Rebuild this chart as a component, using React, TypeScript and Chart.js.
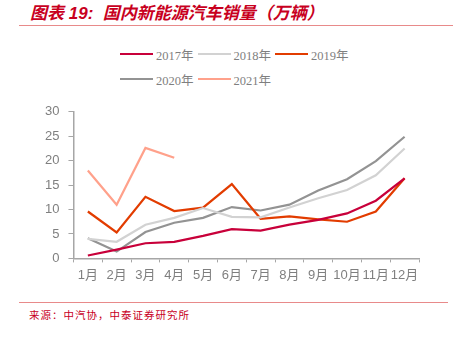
import React, { useEffect, useRef } from "react";
import { Chart, registerables } from "chart.js";

Chart.register(...registerables);

const months = ["1月", "2月", "3月", "4月", "5月", "6月", "7月", "8月", "9月", "10月", "11月", "12月"];
const seriesNames = ["2017年", "2018年", "2019年", "2020年", "2021年"];
const sales2017 = [0.6, 1.8, 3.1, 3.4, 4.6, 6.0, 5.7, 6.9, 7.9, 9.2, 11.8, 16.4];
const sales2018 = [4.0, 3.4, 6.9, 8.3, 10.3, 8.5, 8.4, 10.4, 12.3, 14.0, 17.0, 22.5];
const sales2019 = [9.6, 5.3, 12.6, 9.7, 10.4, 15.2, 8.1, 8.6, 8.0, 7.5, 9.6, 16.4];
const sales2020 = [4.1, 1.4, 5.4, 7.3, 8.3, 10.5, 9.8, 11.0, 13.9, 16.2, 19.9, 24.9];
const sales2021 = [18.0, 11.0, 22.6, 20.6];
const seriesColors = ["#C8003A", "#D2D2D2", "#E23C00", "#939393", "#FFA18B"];
const yTicks = [0, 5, 10, 15, 20, 25, 30];

const seriesData = [sales2017, sales2018, sales2019, sales2020, sales2021];

export default function App() {
  const ref = useRef<HTMLCanvasElement | null>(null);

  useEffect(() => {
    if (!ref.current) return;
    const chart = new Chart(ref.current, {
      type: "line",
      data: {
        labels: months,
        datasets: seriesNames.map((name, i) => ({
          label: name,
          data: seriesData[i],
          borderColor: seriesColors[i],
          backgroundColor: seriesColors[i],
          borderWidth: 2.2,
          pointRadius: 0,
          tension: 0,
          fill: false,
        })),
      },
      options: {
        responsive: false,
        animation: false,
        layout: { padding: { left: 36, right: 37, top: 11.5, bottom: 7 } },
        plugins: {
          legend: { display: false },
          tooltip: { enabled: false },
          title: { display: false },
        },
        scales: {
          x: {
            offset: true,
            grid: {
              display: true,
              drawOnChartArea: false,
              offset: true,
              tickLength: 4,
              color: "#A6A6A6",
            },
            border: { display: true, color: "#A6A6A6", width: 1.5 },
            ticks: {
              color: "#7F7F7F",
              padding: 5,
              maxRotation: 0,
              autoSkip: false,
              font: { family: "'Liberation Sans', 'Noto Sans CJK SC', sans-serif", size: 13 },
            },
          },
          y: {
            min: 0,
            max: 30,
            afterBuildTicks: (axis: any) => {
              axis.ticks = yTicks.map((v) => ({ value: v }));
            },
            grid: {
              display: true,
              drawOnChartArea: false,
              tickLength: 5,
              color: "#A6A6A6",
            },
            border: { display: true, color: "#A6A6A6", width: 1.5 },
            ticks: {
              color: "#7F7F7F",
              padding: 9,
              font: { family: "'Liberation Sans', sans-serif", size: 13 },
            },
          },
        },
      },
    });
    return () => chart.destroy();
  }, []);

  return (
    <div style={{ position: "fixed", left: 0, top: 0, width: 456, height: 345, background: "#fff", overflow: "hidden" }}>
      <div
        style={{
          position: "absolute",
          left: 30,
          top: 4,
          fontSize: 17,
          fontWeight: "bold",
          fontStyle: "italic",
          color: "#C8001E",
          fontFamily: "'Liberation Sans', 'Noto Sans CJK SC', sans-serif",
          whiteSpace: "nowrap",
          lineHeight: "20px",
        }}
      >
        图表 19:&nbsp;&nbsp;国内新能源汽车销量（万辆）
      </div>
      <div style={{ position: "absolute", left: 19, top: 25, width: 434, height: 1, background: "#E88A8A" }} />
      <div
        style={{
          position: "absolute",
          left: 120,
          top: 45,
          width: 240,
          display: "flex",
          flexWrap: "wrap",
          rowGap: 7,
        }}
      >
        {seriesNames.map((name, i) => (
          <div key={name} style={{ width: 77.5, height: 18, display: "flex", alignItems: "center" }}>
            <span style={{ display: "inline-block", width: 33, height: 2.5, background: seriesColors[i], marginRight: 3 }} />
            <span
              style={{
                fontFamily: "'Liberation Serif', 'Noto Sans CJK SC', serif",
                fontSize: 12.5,
                color: "#7F7F7F",
                whiteSpace: "nowrap",
              }}
            >
              {name}
            </span>
          </div>
        ))}
      </div>
      <canvas ref={ref} width={456} height={200} style={{ position: "absolute", left: 0, top: 95, width: 456, height: 200 }} />
      <div style={{ position: "absolute", left: 19, top: 302, width: 429, height: 1, background: "#E88A8A" }} />
      <div
        style={{
          position: "absolute",
          left: 29,
          top: 308,
          fontSize: 10.5,
          letterSpacing: 1,
          color: "#C8001E",
          fontFamily: "'Noto Sans CJK SC', sans-serif",
          whiteSpace: "nowrap",
          lineHeight: "14px",
        }}
      >
        来源：中汽协，中泰证券研究所
      </div>
    </div>
  );
}
